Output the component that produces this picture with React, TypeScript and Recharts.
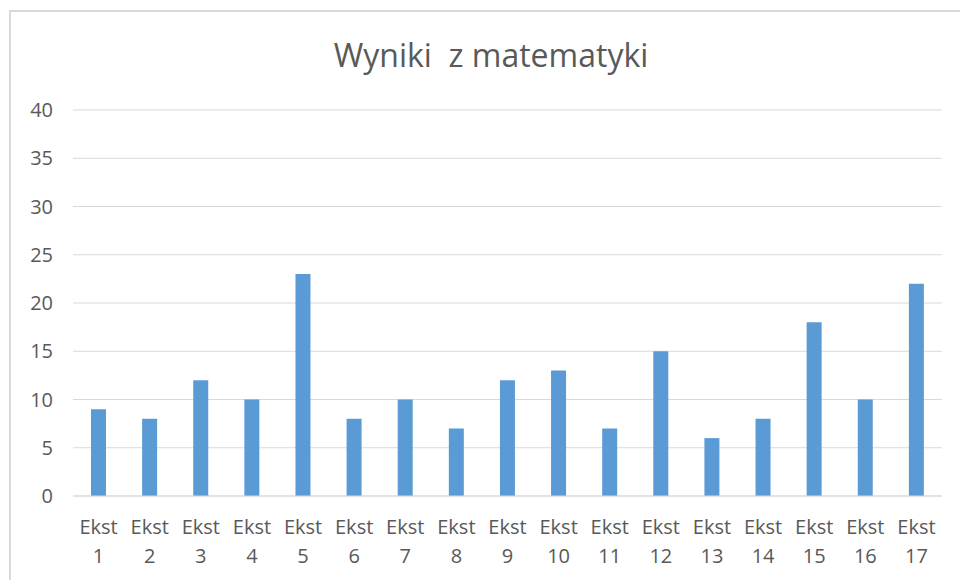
import React from "react";
import { BarChart, Bar, XAxis, YAxis, CartesianGrid } from "recharts";

const categories = ["Ekst 1","Ekst 2","Ekst 3","Ekst 4","Ekst 5","Ekst 6","Ekst 7","Ekst 8","Ekst 9","Ekst 10","Ekst 11","Ekst 12","Ekst 13","Ekst 14","Ekst 15","Ekst 16","Ekst 17"];
const scores = [9, 8, 12, 10, 23, 8, 10, 7, 12, 13, 7, 15, 6, 8, 18, 10, 22];
const yTicks = [0, 5, 10, 15, 20, 25, 30, 35, 40];
const title = "Wyniki\u00a0\u00a0z matematyki";

const data = categories.map((c, i) => ({ name: c, value: scores[i] }));

const FONT = "'Open Sans', sans-serif";
const GRAY = "#595959";

const XTick = (props: any) => {
  const { x, y, payload } = props;
  const parts = String(payload.value).split(" ");
  return (
    <g transform={`translate(${x},${y})`}>
      <text x={0} y={0} textAnchor="middle" fill={GRAY} fontSize={20} fontFamily={FONT}>
        <tspan x={0} dy={30}>{parts[0]}</tspan>
        <tspan x={0} dy={29}>{parts[1]}</tspan>
      </text>
    </g>
  );
};

export default function App() {
  return (
    <div style={{ position: "absolute", left: 0, top: 0, width: 960, height: 580, background: "#fff", overflow: "hidden" }}>
      <div style={{ position: "absolute", left: 9, top: 10, width: 1000, height: 700, border: "2px solid #d9d9d9", boxSizing: "border-box" }} />
      <div style={{ position: "absolute", left: 0, top: 34, width: 982, textAlign: "center", fontFamily: FONT, fontSize: 32, color: GRAY, lineHeight: "42px" }}>
        {title}
      </div>
      <div style={{ position: "absolute", left: 0, top: 0 }}>
        <BarChart width={960} height={580} data={data} margin={{ top: 110, right: 18, bottom: 0, left: 0 }}>
          <CartesianGrid vertical={false} stroke="#d9d9d9" strokeWidth={1} />
          <XAxis dataKey="name" interval={0} tick={<XTick />} tickLine={false} axisLine={{ stroke: "#d9d9d9" }} height={84} />
          <YAxis domain={[0, 40]} ticks={yTicks} width={73} tickLine={false} axisLine={false} tickSize={0} tickMargin={20}
            tick={{ fill: GRAY, fontSize: 20, fontFamily: FONT }} />
          <Bar dataKey="value" fill="#5b9bd5" barSize={15} isAnimationActive={false} />
        </BarChart>
      </div>
    </div>
  );
}
